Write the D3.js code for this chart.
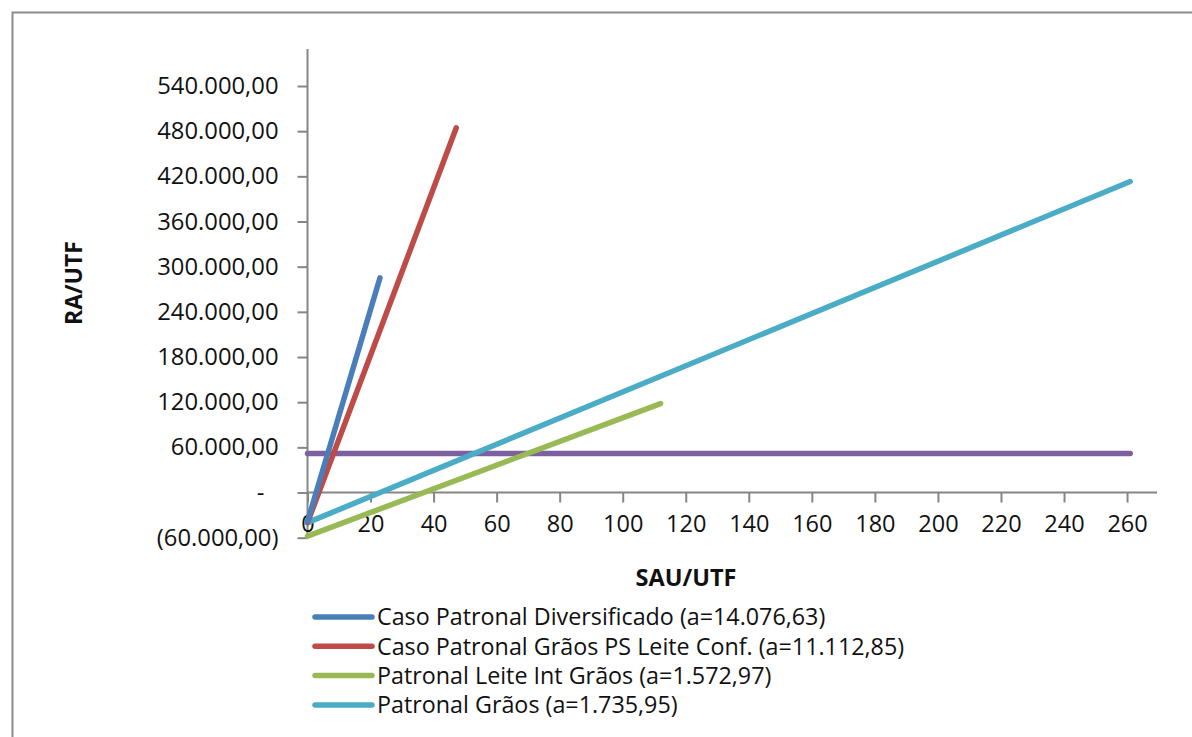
<!DOCTYPE html>
<html>
<head>
<meta charset="utf-8">
<script src="https://cdn.jsdelivr.net/npm/d3@7"></script>
<style>
  html, body { margin: 0; padding: 0; background: #fff; }
  svg { display: block; }
  text { font-family: "Open Sans", "Noto Sans", sans-serif; fill: #111; }
</style>
</head>
<body>
<svg id="chart" width="1192" height="737"></svg>
<script>
// Series: straight lines y = a·x + b over SAU/UTF from 0 to xEnd
const seriesNames = [
  "Caso Patronal Diversificado (a=14.076,63)",
  "Caso Patronal Grãos PS Leite Conf. (a=11.112,85)",
  "Patronal Leite Int Grãos (a=1.572,97)",
  "Patronal Grãos (a=1.735,95)",
  "Referência"
];
const slopes     = [14076.63, 11112.85, 1572.97, 1735.95, 0];
const intercepts = [-38500, -40000, -58000, -40000, 52000];
const xEnds      = [23, 47.2, 112, 261, 261];
const colors     = ["#4a7ebb", "#be4b48", "#98b954", "#4bacc6", "#7d60a0"];
const inLegend   = [true, true, true, true, false];

// Axis ticks
const xTicks = [0, 20, 40, 60, 80, 100, 120, 140, 160, 180, 200, 220, 240, 260];
const yTicks = [-60000, 0, 60000, 120000, 180000, 240000, 300000, 360000, 420000, 480000, 540000];

const svg = d3.select("#chart");

// Outer frame
svg.append("rect")
  .attr("x", 12.5).attr("y", 12.5)
  .attr("width", 1300).attr("height", 900)
  .attr("fill", "none").attr("stroke", "#8c8c8c").attr("stroke-width", 2);

const x = d3.scaleLinear().domain([0, 269.5]).range([307.5, 1157]);
const y = d3.scaleLinear().domain([-60000, 540000]).range([537.7, 86]);
const yTop = 49;

const fmtBR = v => {
  if (v === 0) return "-";
  const s = d3.format(",.2f")(Math.abs(v)).replace(/,/g, "#").replace(".", ",").replace(/#/g, ".");
  return v < 0 ? "(" + s + ")" : s;
};

const axisColor = "#868686";

// Vertical axis
const yAxis = d3.axisLeft(y).tickValues(yTicks).tickSize(10).tickFormat(fmtBR);
const gy = svg.append("g").attr("transform", `translate(${x(0)},0)`).call(yAxis);
gy.select(".domain").remove();
gy.selectAll(".tick line").attr("stroke", axisColor).attr("stroke-width", 2);
gy.selectAll(".tick text")
  .attr("x", -29)
  .attr("dx", d => d === 0 ? -14 : 0)
  .attr("font-size", 23.8)
  .attr("fill", "#111");
svg.append("line")
  .attr("x1", x(0)).attr("x2", x(0))
  .attr("y1", yTop).attr("y2", y(-60000))
  .attr("stroke", axisColor).attr("stroke-width", 2);

// Horizontal axis crossing at zero
const xAxis = d3.axisBottom(x).tickValues(xTicks).tickSize(10).tickFormat(d3.format("d"));
const gx = svg.append("g").attr("transform", `translate(0,${y(0)})`).call(xAxis);
gx.select(".domain").remove();
gx.selectAll(".tick line").attr("stroke", axisColor).attr("stroke-width", 2);
gx.selectAll(".tick text")
  .attr("y", 23)
  .attr("dy", "0.71em")
  .attr("font-size", 23.5)
  .attr("fill", "#111");
svg.append("line")
  .attr("x1", x(0)).attr("x2", x.range()[1])
  .attr("y1", y(0)).attr("y2", y(0))
  .attr("stroke", axisColor).attr("stroke-width", 2);

// Axis titles
svg.append("text")
  .attr("transform", `translate(82,283) rotate(-90)`)
  .attr("text-anchor", "middle")
  .attr("font-size", 23).attr("font-weight", "bold")
  .text("RA/UTF");
svg.append("text")
  .attr("x", 686).attr("y", 586)
  .attr("text-anchor", "middle")
  .attr("font-size", 23.5).attr("font-weight", "bold")
  .text("SAU/UTF");

// Lines
const line = d3.line().x(d => x(d[0])).y(d => y(d[1]));
const series = seriesNames.map((name, i) => ({
  name, color: colors[i],
  pts: [0, xEnds[i]].map(sx => [sx, slopes[i] * sx + intercepts[i]])
}));
const drawOrder = [4, 2, 3, 1, 0];
svg.append("g").selectAll("path")
  .data(drawOrder.map(i => series[i]))
  .join("path")
  .attr("d", d => line(d.pts))
  .attr("fill", "none")
  .attr("stroke", d => d.color)
  .attr("stroke-width", 5.5)
  .attr("stroke-linecap", "round");

// Legend
const legend = svg.append("g");
const legendItems = series.filter((d, i) => inLegend[i]);
const rows = legend.selectAll("g").data(legendItems).join("g")
  .attr("transform", (d, i) => `translate(315,${617 + i * 29.3})`);
rows.append("line")
  .attr("x1", 0).attr("x2", 57)
  .attr("stroke", d => d.color).attr("stroke-width", 5.5)
  .attr("stroke-linecap", "round");
rows.append("text")
  .attr("x", 62).attr("dy", "0.36em")
  .attr("font-size", 23.3)
  .text(d => d.name);
</script>
</body>
</html>
